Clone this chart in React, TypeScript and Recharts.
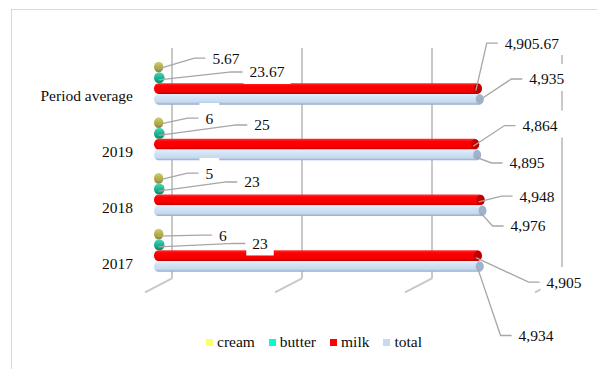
import { Bar, BarChart, CartesianGrid, LabelList, Legend, XAxis, YAxis } from 'recharts';

// Dairy output by year, with the period average on top.
const categories = ['Period average', '2019', '2018', '2017'];
const cream = [5.67, 6, 5, 6];
const butter = [23.67, 25, 23, 23];
const milk = [4905.67, 4864, 4948, 4905];
const total = [4935, 4895, 4976, 4934];
const valueTicks = [0, 2000, 4000, 6000];
const VALUE_MAX = 6000;

const SERIF = '"Liberation Serif", "Times New Roman", serif';
const FONT_SIZE = 15.5;
const TEXT = '#0d0d0d';
const FRAME = '#d9d9d9';
const GRID = '#c8c8c8';
const LEADER = '#a6a6a6';
// Tubes stick out past the value by this much (rounded end cap).
const TUBE_EXTRA = 8;
// Back wall sits this far right of / above the front of the tubes.
const DEPTH_X = 17;
const DEPTH_Y = 14;

type SeriesKey = 'cream' | 'butter' | 'milk' | 'total';

const SERIES: Array<{
  key: SeriesKey;
  name: string;
  swatch: string;
  stops: Array<[number, string]>;
  cap?: string;
}> = [
  {
    key: 'cream',
    name: 'cream',
    swatch: '#ffff66',
    stops: [[0, '#d2cf72'], [0.5, '#b4af4b'], [1, '#8c892f']],
  },
  {
    key: 'butter',
    name: 'butter',
    swatch: '#00ffcc',
    stops: [[0, '#4ad8b6'], [0.5, '#19b592'], [1, '#0b8b6f']],
  },
  {
    key: 'milk',
    name: 'milk',
    swatch: '#ff0000',
    stops: [[0, '#ff3030'], [0.25, '#ff0000'], [0.8, '#f20000'], [1, '#b80000']],
    cap: '#c00000',
  },
  {
    key: 'total',
    name: 'total',
    swatch: '#c6d9f1',
    stops: [[0, '#e4eefa'], [0.3, '#d4e4f6'], [0.75, '#c6d9f0'], [1, '#94aac7']],
    cap: '#9fb3cc',
  },
];

// Where each callout text sits, relative to the end of its tube (dx, dy).
const LABEL_OFFSETS: Record<SeriesKey, Array<[number, number]>> = {
  cream: [[62.6, -9], [46, -4.7], [46, -5.4], [59.6, 0.9]],
  butter: [[102.5, -5.8], [97.4, -8.5], [87.5, -7.2], [95.5, -1.4]],
  milk: [[50, -45.5], [60.8, -18.7], [52.4, -3.9], [82.2, 26.4]],
  total: [[63, -20.3], [45.8, 8], [41.6, 15.3], [52.3, 69.1]],
};

const rows = categories.map((name, i) => ({
  name,
  cream: cream[i],
  butter: butter[i],
  milk: milk[i],
  total: total[i],
}));

const fmt = new Intl.NumberFormat('en-US', { maximumFractionDigits: 2 });

function textWidth(s: string): number {
  let em = 0;
  for (const ch of s) em += ch === ',' || ch === '.' ? 0.25 : 0.5;
  return em * FONT_SIZE;
}

function Tube(props: any) {
  const { x, y, width, height, gradId, cap } = props;
  const left = x - 1;
  const right = x + Math.max(width, 0) + TUBE_EXTRA;
  const r = height / 2;
  return (
    <g>
      <rect x={left} y={y} width={right - left} height={height} rx={4.5} ry={r} fill={`url(#${gradId})`} />
      {cap && <ellipse cx={right - 4} cy={y + r} rx={4} ry={r * 0.92} fill={cap} />}
    </g>
  );
}

function Callout(props: any) {
  const { series, index, value } = props;
  const vb = props.viewBox && typeof props.viewBox.x === 'number' ? props.viewBox : props;
  const endX = vb.x + Math.max(vb.width, 0) + TUBE_EXTRA;
  const cy = vb.y + vb.height / 2;
  const [dx, dy] = LABEL_OFFSETS[series as SeriesKey][index];
  const tx = endX + dx;
  const ty = cy + dy;
  const text = fmt.format(Number(value));
  const w = textWidth(text);
  const hx = tx - w / 2 - 7;
  const elbow = hx - 11;
  return (
    <g>
      <polyline
        points={`${endX - 6},${cy + 2} ${elbow},${ty} ${hx},${ty}`}
        fill="none"
        stroke={LEADER}
        strokeWidth={1.3}
      />
      <rect x={tx - w / 2 - 6} y={ty - 15} width={w + 12} height={27} fill="#fff" />
      <text
        x={tx}
        y={ty}
        textAnchor="middle"
        dominantBaseline="central"
        fontFamily={SERIF}
        fontSize={FONT_SIZE}
        fill={TEXT}
      >
        {text}
      </text>
    </g>
  );
}

function CategoryTick({ x, y, payload }: any) {
  return (
    <text
      x={x}
      y={y + 12.4}
      textAnchor="end"
      dominantBaseline="central"
      fontFamily={SERIF}
      fontSize={FONT_SIZE}
      fill={TEXT}
    >
      {payload.value}
    </text>
  );
}

// Back-wall gridline (a thin filled strip) plus the slanted floor line
// running forward from its foot.
function WallLine(props: any) {
  const { x1, y1, y2 } = props;
  const wx = x1 + DEPTH_X;
  return (
    <g key={props.key}>
      <rect x={wx - 1} y={y1} width={2} height={y2 - y1} fill={GRID} />
      <line x1={wx} y1={y2} x2={x1 - 10} y2={y2 + DEPTH_Y} stroke={GRID} strokeWidth={2} />
    </g>
  );
}

// Value-axis positions of the gridlines; same mapping as the "val" axis.
function gridXs({ xAxis, offset }: any): number[] {
  const s = xAxis && xAxis.scale;
  if (typeof s === 'function') return valueTicks.map((v) => s(v));
  if (s && typeof s.map === 'function') return valueTicks.map((v) => s.map(v));
  const span = offset.width - DEPTH_X;
  return valueTicks.map((v) => offset.left + (v / VALUE_MAX) * span);
}

function LegendRow() {
  return (
    <div style={{ display: 'flex', gap: 14, fontFamily: SERIF, fontSize: FONT_SIZE, color: TEXT, lineHeight: '18px' }}>
      {SERIES.map((s) => (
        <span key={s.key} style={{ display: 'flex', alignItems: 'center' }}>
          <span style={{ width: 7, height: 7, background: s.swatch, marginRight: 4 }} />
          {s.name}
        </span>
      ))}
    </div>
  );
}

export default function App() {
  return (
    <div
      style={{
        position: 'absolute',
        left: 0,
        top: 0,
        width: 597,
        height: 369,
        overflow: 'hidden',
        background: '#fff',
      }}
    >
      <div
        style={{
          position: 'absolute',
          left: 11,
          top: 9,
          width: 620,
          height: 400,
          borderLeft: `1.5px solid ${FRAME}`,
          borderTop: `1.5px solid ${FRAME}`,
        }}
      />
      <BarChart
        width={597}
        height={369}
        data={rows}
        layout="vertical"
        margin={{ top: 48, right: 35, bottom: 90.55, left: 0 }}
        barGap={0}
        style={{ position: 'absolute', left: 0, top: 0 }}
      >
        <defs>
          {SERIES.map((s) => (
            <linearGradient key={s.key} id={`tube-${s.key}`} x1="0" y1="0" x2="0" y2="1">
              {s.stops.map(([o, c]) => (
                <stop key={o} offset={o} stopColor={c} />
              ))}
            </linearGradient>
          ))}
        </defs>
        <XAxis
          xAxisId="val"
          type="number"
          domain={[0, VALUE_MAX]}
          ticks={valueTicks}
          padding={{ left: 0, right: DEPTH_X }}
          hide
        />
        <YAxis
          type="category"
          dataKey="name"
          width={155}
          axisLine={false}
          tickLine={false}
          tickSize={0}
          tickMargin={22}
          padding={{ top: 7.65, bottom: 0 }}
          tick={<CategoryTick />}
          interval={0}
        />
        <CartesianGrid
          xAxisId="val"
          horizontal={false}
          verticalCoordinatesGenerator={gridXs}
          vertical={(p: any) => <WallLine {...p} />}
        />
        <Legend
          layout="horizontal"
          align="center"
          verticalAlign="middle"
          content={() => <LegendRow />}
          wrapperStyle={{ left: 206, top: 333, width: 'auto' }}
        />
        {SERIES.map((s) => (
          <Bar
            key={s.key}
            xAxisId="val"
            dataKey={s.key}
            name={s.name}
            fill={s.swatch}
            barSize={10.75}
            isAnimationActive={false}
            shape={(p: any) => <Tube {...p} gradId={`tube-${s.key}`} cap={s.cap} />}
          >
            <LabelList dataKey={s.key} content={(p: any) => <Callout {...p} series={s.key} />} />
          </Bar>
        ))}
      </BarChart>
    </div>
  );
}
